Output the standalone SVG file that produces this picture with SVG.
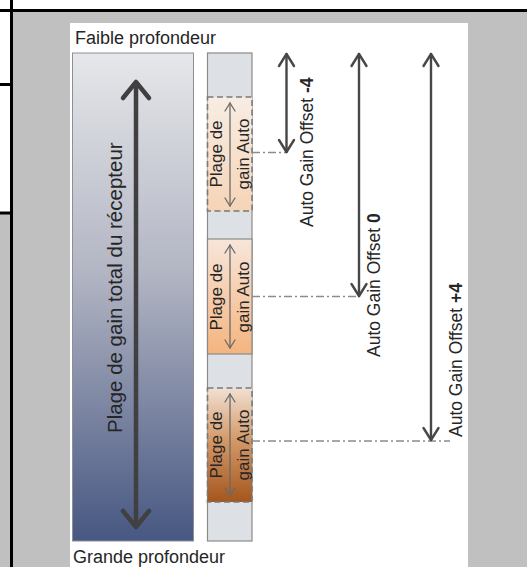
<svg xmlns="http://www.w3.org/2000/svg" width="527" height="567" viewBox="0 0 527 567">
<style>
  text { font-family: "Liberation Sans", Arial, sans-serif; fill: #262626; }
  .frame { stroke: #000; stroke-width: 3; fill: none; }
  .big { stroke: #404040; stroke-width: 4.5; fill: none; stroke-linecap: round; stroke-linejoin: round; }
  .off { stroke: #474747; stroke-width: 2.4; fill: none; stroke-linecap: round; stroke-linejoin: round; }
  .seg-arrow { stroke: #6a6a6a; stroke-width: 1.3; fill: none; stroke-linecap: round; stroke-linejoin: round; }
  .dashdot { stroke: #8c8c8c; stroke-width: 1.3; stroke-dasharray: 8 3 2 3; fill: none; }
  .seg-dashed { stroke: #7a7a7a; stroke-width: 1.6; stroke-dasharray: 6 3.5; }
  .seg-solid { stroke: #8a8a8a; stroke-width: 1.2; }
  .lab { font-size: 17px; }
  .off-lab { font-size: 17.5px; }
</style>
<defs>
  <linearGradient id="gBig" x1="0" y1="0" x2="0" y2="1">
    <stop offset="0" stop-color="#e6e7ea"/>
    <stop offset="0.45" stop-color="#b2b5c3"/>
    <stop offset="1" stop-color="#475782"/>
  </linearGradient>
  <linearGradient id="gS1" x1="0" y1="0" x2="0" y2="1">
    <stop offset="0" stop-color="#f8ede4"/>
    <stop offset="1" stop-color="#f6d4b6"/>
  </linearGradient>
  <linearGradient id="gS2" x1="0" y1="0" x2="0" y2="1">
    <stop offset="0" stop-color="#f7e6da"/>
    <stop offset="1" stop-color="#f4b47f"/>
  </linearGradient>
  <linearGradient id="gS3" x1="0" y1="0" x2="0" y2="1">
    <stop offset="0" stop-color="#f1e0d3"/>
    <stop offset="0.45" stop-color="#d49a6a"/>
    <stop offset="1" stop-color="#a4561d"/>
  </linearGradient>
</defs>

<!-- background & frame -->
<rect x="0" y="0" width="527" height="567" fill="#ffffff"/>
<rect x="12" y="11" width="515" height="556" fill="#c0c0c0"/>
<rect x="0" y="214" width="12" height="353" fill="#c0c0c0"/>
<g class="frame">
  <line x1="0" y1="10.5" x2="527" y2="10.5"/>
  <line x1="11.5" y1="0" x2="11.5" y2="567"/>
  <line x1="0" y1="84.5" x2="11" y2="84.5"/>
  <line x1="0" y1="213" x2="11" y2="213"/>
</g>

<!-- white panel -->
<rect x="70" y="23" width="398" height="544" fill="#ffffff"/>

<g id="label-top">
  <text x="75" y="44" font-size="18">Faible profondeur</text>
</g>
<g id="label-bottom">
  <text x="73" y="563" font-size="18">Grande profondeur</text>
</g>

<!-- big bar -->
<g id="total-range">
  <rect x="72.5" y="53" width="121" height="488" fill="url(#gBig)" stroke="#8d8f96" stroke-width="1"/>
  <line class="big" x1="136" y1="83" x2="136" y2="525"/>
  <polyline class="big" points="123,98 136,82 149,98"/>
  <polyline class="big" points="123,511 136,527 149,511"/>
  <text transform="translate(122,433) rotate(-90)" font-size="20.5">Plage de gain total du récepteur</text>
</g>

<!-- narrow bar -->
<g id="auto-bar">
  <rect x="207.5" y="53" width="44.5" height="488" fill="#dde1e6" stroke="#8a8a8a" stroke-width="1.2"/>
</g>

<g id="seg-1">
  <rect class="seg-dashed" x="207.5" y="97" width="44.5" height="114" fill="url(#gS1)"/>
  <line class="seg-arrow" x1="230" y1="103" x2="230" y2="206"/>
  <polyline class="seg-arrow" points="225,111 230,103 235,111"/>
  <polyline class="seg-arrow" points="225,198 230,206 235,198"/>
  <text class="lab" transform="translate(222,154) rotate(-90)" text-anchor="middle">Plage de</text>
  <text class="lab" transform="translate(249,154) rotate(-90)" text-anchor="middle">gain Auto</text>
</g>

<g id="seg-2">
  <rect class="seg-solid" x="207.5" y="239" width="44.5" height="115" fill="url(#gS2)"/>
  <line class="seg-arrow" x1="230" y1="245" x2="230" y2="348"/>
  <polyline class="seg-arrow" points="225,253 230,245 235,253"/>
  <polyline class="seg-arrow" points="225,340 230,348 235,340"/>
  <text class="lab" transform="translate(222,297) rotate(-90)" text-anchor="middle">Plage de</text>
  <text class="lab" transform="translate(249,297) rotate(-90)" text-anchor="middle">gain Auto</text>
</g>

<g id="seg-3">
  <rect class="seg-dashed" x="207.5" y="388" width="44.5" height="114" fill="url(#gS3)"/>
  <line class="seg-arrow" x1="230" y1="394" x2="230" y2="496"/>
  <polyline class="seg-arrow" points="225,402 230,394 235,402"/>
  <polyline class="seg-arrow" points="225,488 230,496 235,488"/>
  <text class="lab" transform="translate(222,445) rotate(-90)" text-anchor="middle">Plage de</text>
  <text class="lab" transform="translate(249,445) rotate(-90)" text-anchor="middle">gain Auto</text>
</g>

<!-- connectors -->
<g id="connectors">
  <line class="dashdot" x1="252" y1="152.5" x2="286" y2="152.5"/>
  <line class="dashdot" x1="252" y1="296.5" x2="360" y2="296.5"/>
  <line class="dashdot" x1="252" y1="441" x2="450" y2="441"/>
</g>

<g id="offset-m4">
  <line class="off" x1="286.5" y1="54" x2="286.5" y2="152"/>
  <polyline class="off" points="279,66 286.5,54 294,66"/>
  <polyline class="off" points="279,140 286.5,152 294,140"/>
  <text class="off-lab" transform="translate(312.5,227) rotate(-90)">Auto Gain Offset <tspan font-weight="bold">-4</tspan></text>
</g>

<g id="offset-0">
  <line class="off" x1="359" y1="54" x2="359" y2="296"/>
  <polyline class="off" points="351.5,66 359,54 366.5,66"/>
  <polyline class="off" points="351.5,284 359,296 366.5,284"/>
  <text class="off-lab" transform="translate(379.5,357) rotate(-90)">Auto Gain Offset <tspan font-weight="bold">0</tspan></text>
</g>

<g id="offset-p4">
  <line class="off" x1="431" y1="54" x2="431" y2="440"/>
  <polyline class="off" points="423.5,66 431,54 438.5,66"/>
  <polyline class="off" points="423.5,428 431,440 438.5,428"/>
  <text class="off-lab" transform="translate(461.5,437) rotate(-90)">Auto Gain Offset <tspan font-weight="bold">+4</tspan></text>
</g>
</svg>
